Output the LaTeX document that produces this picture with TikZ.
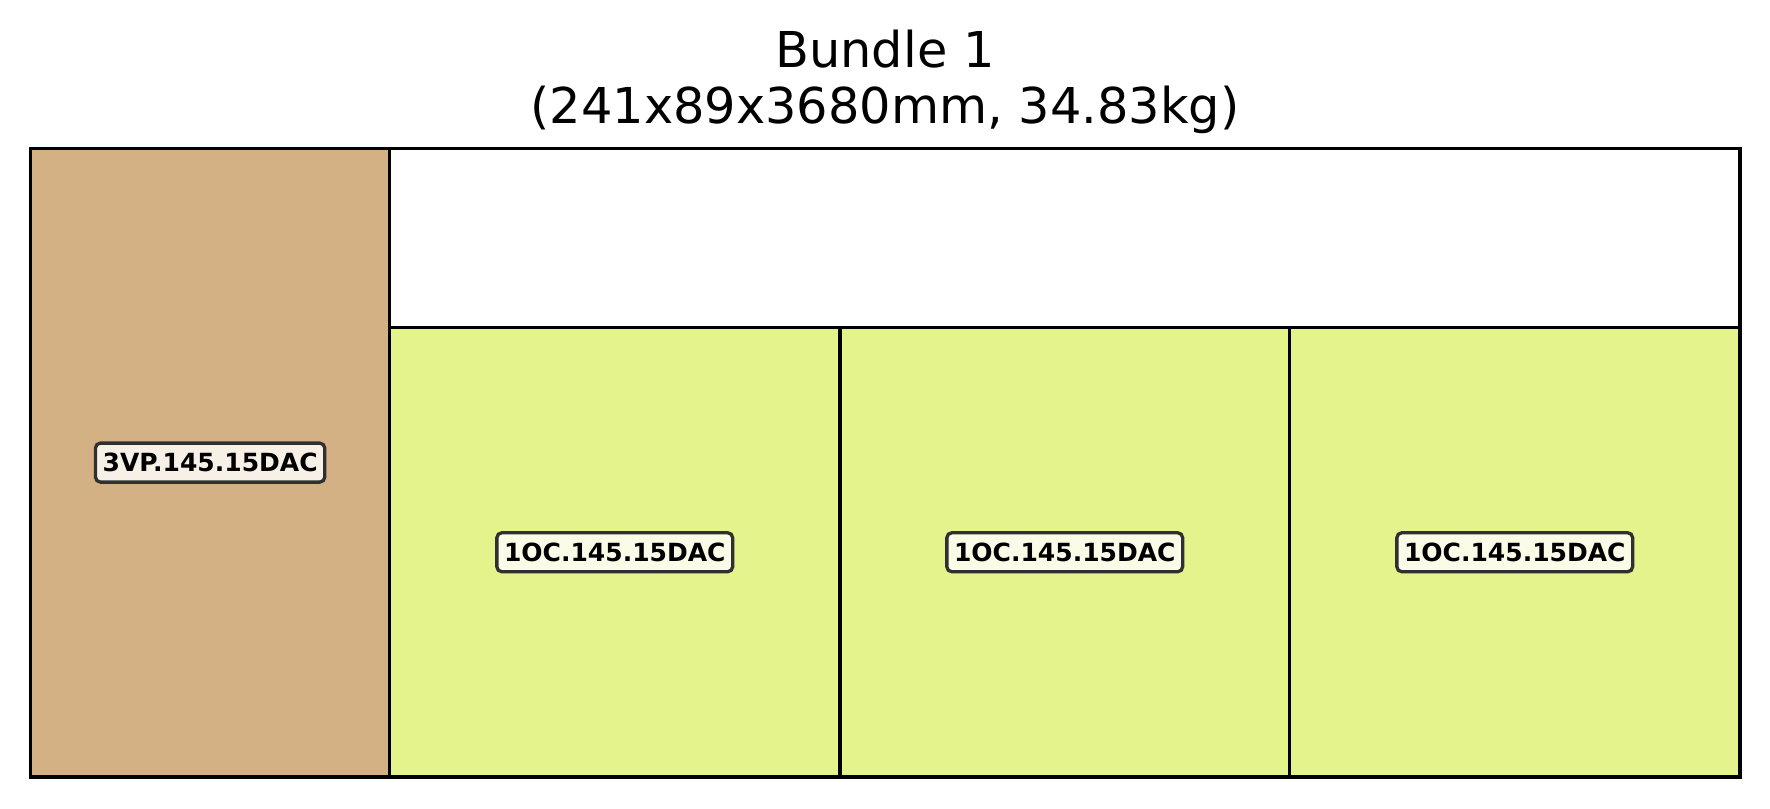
\documentclass[tikz,border=0pt]{standalone}
\usepackage{fontspec}
\setmainfont{DejaVu Sans}

\definecolor{tanbox}{HTML}{D4B185}
\definecolor{limebox}{HTML}{E4F38B}
\definecolor{tantag}{HTML}{F6F0E7}
\definecolor{limetag}{HTML}{FAFCE8}
\definecolor{tagline}{HTML}{303030}

\tikzset{
  cell/.style={draw=black, line width=1.75pt},
  tag/.style={draw=tagline, line width=1.65pt, rounded corners=2.5pt,
    font=\fontsize{12.5}{15}\selectfont\bfseries,
    inner xsep=3.6pt, inner ysep=0pt, minimum height=19.5pt},
  heading/.style={anchor=base, font=\fontsize{24.7}{29}\selectfont}
}

\begin{document}
\begin{tikzpicture}[x=0.5pt, y=-0.5pt]
        \useasboundingbox (0,0) rectangle (1770,808);

        % Title
        \node[heading] (title) at (885, 67.7) {Bundle 1};
        \node[heading] (dims) at (885, 124) {(241x89x3680mm, 34.83kg)};

        % Cells
        \filldraw[cell, fill=tanbox] (30.7, 148.3) rectangle (389.5, 777);
        \filldraw[cell, fill=white] (389.5, 148.3) rectangle (1740, 327.5);
        \filldraw[cell, fill=limebox] (389.5, 327.5) rectangle (840, 777);
        \filldraw[cell, fill=limebox] (840, 327.5) rectangle (1289.5, 777);
        \filldraw[cell, fill=limebox] (1289.5, 327.5) rectangle (1740, 777);

        % Tags
        \node[tag, fill=tantag] (vp) at (210.1, 462.6) {3VP.145.15DAC};
        \node[tag, fill=limetag] (oc1) at (614.75, 552.25) {1OC.145.15DAC};
        \node[tag, fill=limetag] (oc2) at (1064.75, 552.25) {1OC.145.15DAC};
        \node[tag, fill=limetag] (oc3) at (1514.75, 552.25) {1OC.145.15DAC};
\end{tikzpicture}
\end{document}
